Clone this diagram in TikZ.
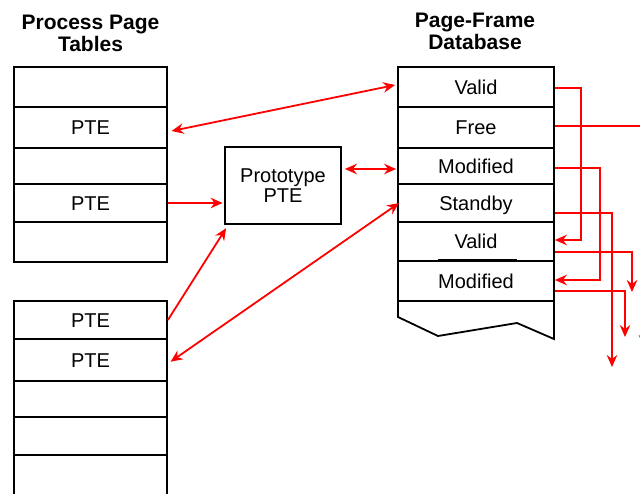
\documentclass[tikz,border=0pt]{standalone}
\usepackage{fontspec}
\setmainfont{Liberation Sans}
\usetikzlibrary{arrows.meta,calc}
\definecolor{linkred}{RGB}{255,0,0}

\begin{document}
\begin{tikzpicture}[x=1pt,y=-1pt,
  cell/.style={draw=black, line width=1.8pt, inner sep=0pt,
    text height=15pt, text depth=0pt,
    font=\fontsize{20}{24}\selectfont},
  ptecell/.style={cell, minimum width=153pt},
  pfncell/.style={cell, minimum width=156pt},
  heading/.style={font=\bfseries\fontsize{21}{22.2}\selectfont,
    align=center, inner sep=0pt, anchor=north},
  link/.style={draw=linkred, line width=1.8pt},
  tip/.tip={Stealth[length=12pt,width=10.5pt,inset=4pt]},
  one/.style={link, -tip},
  both/.style={link, tip-tip}]

\useasboundingbox (0,0) rectangle (640,494);
\clip (0,0) rectangle (640,494);

% headings
\node[heading] (hleft) at (90.5,14.5) {Process Page\\Tables};
\node[heading] (hright) at (475,13) {Page-Frame\\Database};

% first process page table
\node[ptecell, minimum height=40pt] (a0) at (90.5,87)    {};
\node[ptecell, minimum height=41pt] (a1) at (90.5,127.5) {PTE};
\node[ptecell, minimum height=36pt] (a2) at (90.5,166)   {};
\node[ptecell, minimum height=38pt] (a3) at (90.5,203)   {PTE};
\node[ptecell, minimum height=40pt] (a4) at (90.5,242)   {};

% second process page table (runs off the bottom)
\node[ptecell, minimum height=38pt] (b0) at (90.5,320) {PTE};
\node[ptecell, minimum height=42pt] (b1) at (90.5,360) {PTE};
\node[ptecell, minimum height=36pt] (b2) at (90.5,399) {};
\node[ptecell, minimum height=38pt] (b3) at (90.5,436) {};
\node[ptecell, minimum height=60pt] (b4) at (90.5,485) {};

% prototype PTE
\node[draw=black, line width=1.8pt, minimum width=116pt, minimum height=77pt,
  inner sep=0pt, align=center, font=\fontsize{20}{20.6}\selectfont]
  (proto) at (283,185.5) {Prototype\\PTE};

% page-frame database
\node[pfncell, minimum height=40pt] (p0) at (476,87)    {Valid};
\node[pfncell, minimum height=41pt] (p1) at (476,127.5) {Free};
\node[pfncell, minimum height=36pt] (p2) at (476,166)   {Modified};
\node[pfncell, minimum height=38pt] (p3) at (476,203)   {Standby};
\node[pfncell, minimum height=39pt] (p4) at (476,241.5) {Valid};
\node[pfncell, minimum height=40pt] (p5) at (476,281)   {Modified};
\draw[line width=3pt] (438,261) -- (517,261);
% torn lower edge of the database
\draw[line width=1.8pt] (398,301) -- (398,317) -- (438,336)
  -- (517,323) -- (554,339) -- (554,301);

% links between the tables
\draw[both] ([xshift=3.7pt,yshift=-3.5pt]a1.east) -- ([xshift=-2pt,yshift=2pt]p0.west);
\draw[one, shorten >=1.5pt] (a3.east) -- (a3.east -| proto.west);
\coordinate (modin) at ([yshift=-3pt]p2.west);
\draw[both, shorten <=3pt, shorten >=1pt] (proto.east |- modin) -- (modin);
\draw[one] (b0.east) -- ([xshift=2pt,yshift=-3.3pt]proto.south west);
\draw[both] ([xshift=2.7pt,yshift=-1.7pt]b1.east) -- ([xshift=2pt]p3.west);

% list links on the right
\coordinate (freeend) at (644,347);
\coordinate (standbyend) at (612,367);
\coordinate (validend) at (632,292);
\coordinate (modend) at (625,337);
\draw[one] ([yshift=-1pt]p0.east) -| ([xshift=26pt,yshift=1.5pt]p4.east) -- ([yshift=1.5pt]p4.east);
\draw[one] ([yshift=1.5pt]p1.east) -| (freeend);
\draw[one] ([yshift=-2pt]p2.east) -| ([xshift=45pt,yshift=1pt]p5.east) -- ([yshift=1pt]p5.east);
\draw[one] ([yshift=-10pt]p3.east) -| (standbyend);
\draw[one] ([yshift=-10.5pt]p4.east) -| (validend);
\draw[one] ([yshift=-10pt]p5.east) -| (modend);
\end{tikzpicture}
\end{document}
